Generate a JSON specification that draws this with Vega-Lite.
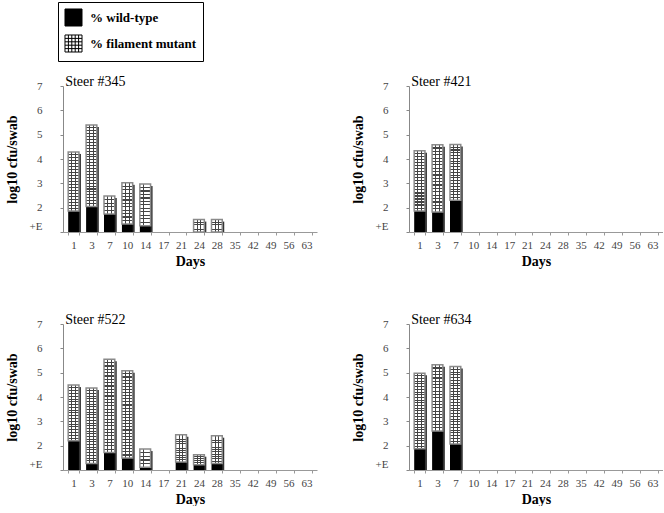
{
  "$schema": "https://vega.github.io/schema/vega-lite/v6.json",
  "background": "white",
  "padding": {"left": 5, "top": 1, "right": 0, "bottom": 0},
  "data": {"values": [
    {"steer": "Steer #345", "day": "1", "wt": 1.86, "total": 4.29},
    {"steer": "Steer #345", "day": "3", "wt": 2.05, "total": 5.40},
    {"steer": "Steer #345", "day": "7", "wt": 1.74, "total": 2.48},
    {"steer": "Steer #345", "day": "10", "wt": 1.33, "total": 3.02},
    {"steer": "Steer #345", "day": "14", "wt": 1.26, "total": 2.97},
    {"steer": "Steer #345", "day": "24", "wt": 1.0, "total": 1.51},
    {"steer": "Steer #345", "day": "28", "wt": 1.0, "total": 1.51},
    {"steer": "Steer #421", "day": "1", "wt": 1.86, "total": 4.34},
    {"steer": "Steer #421", "day": "3", "wt": 1.82, "total": 4.59},
    {"steer": "Steer #421", "day": "7", "wt": 2.30, "total": 4.60},
    {"steer": "Steer #522", "day": "1", "wt": 2.20, "total": 4.49},
    {"steer": "Steer #522", "day": "3", "wt": 1.27, "total": 4.37},
    {"steer": "Steer #522", "day": "7", "wt": 1.72, "total": 5.55},
    {"steer": "Steer #522", "day": "10", "wt": 1.49, "total": 5.08},
    {"steer": "Steer #522", "day": "14", "wt": 1.11, "total": 1.86},
    {"steer": "Steer #522", "day": "21", "wt": 1.33, "total": 2.45},
    {"steer": "Steer #522", "day": "24", "wt": 1.22, "total": 1.63},
    {"steer": "Steer #522", "day": "28", "wt": 1.27, "total": 2.41},
    {"steer": "Steer #634", "day": "1", "wt": 1.87, "total": 4.98},
    {"steer": "Steer #634", "day": "3", "wt": 2.60, "total": 5.33},
    {"steer": "Steer #634", "day": "7", "wt": 2.07, "total": 5.25}
  ]},
  "facet": {"field": "steer", "type": "nominal", "header": {"title": null, "labels": false, "labelExpr": "''", "labelFontSize": 1, "labelPadding": 0}},
  "columns": 2,
  "bounds": "flush",
  "spacing": {"row": 92, "column": 92},
  "resolve": {"axis": {"x": "independent", "y": "independent"}},
  "spec": {
    "width": 254,
    "height": 146,
    "encoding": {
      "x": {
        "field": "day", "type": "ordinal",
        "scale": {"domain": ["1","3","7","10","14","17","21","24","28","35","42","49","56","63"], "paddingInner": 0.4, "paddingOuter": 0.29},
        "axis": {"title": "Days", "labelAngle": 0, "labelOverlap": false, "tickBand": "extent", "tickSize": 3, "labelPadding": 4, "labelFontSize": 11, "labelColor": "#444", "domainColor": "#999", "tickColor": "#999", "titleFontSize": 14, "titleFontWeight": "bold", "titleColor": "black", "titlePadding": 4}
      }
    },
    "layer": [
      {
        "mark": {"type": "bar", "fill": "#333", "xOffset": 2, "yOffset": 2, "clip": true},
        "encoding": {
          "y": {"field": "total", "type": "quantitative", "scale": {"domain": [1, 7], "nice": false}, "title": "log10 cfu/swab",
            "axis": {"values": [1,2,3,4,5,6,7], "tickCount": 7, "labelOverlap": false, "labelExpr": "datum.value == 1 ? '+E' : format(datum.value, 'd')", "labelBaseline": {"condition": {"test": "datum.value == 1", "value": "line-bottom"}, "value": "middle"}, "tickSize": 3, "labelPadding": 18, "labelFontSize": 11, "labelColor": "#444", "domainColor": "#888", "tickColor": "#888", "titleFontSize": 14, "titleFontWeight": "bold", "titleColor": "black", "titlePadding": 10}},
          "y2": {"datum": 1}
        }
      },
      {
        "mark": {"type": "bar"},
        "encoding": {
          "y": {"field": "wt", "type": "quantitative", "scale": {"domain": [1, 7], "nice": false}, "title": "log10 cfu/swab"},
          "y2": {"datum": 1},
          "color": {"datum": "% wild-type", "type": "nominal",
            "scale": {"domain": ["% wild-type", "% filament mutant"], "range": ["black", "white"]},
            "legend": {"title": null, "orient": "none", "legendX": -5, "legendY": -84, "strokeColor": "black", "padding": 6, "symbolSize": 290, "symbolType": "square", "labelFontSize": 13, "labelFontWeight": "bold", "labelColor": "black", "labelOffset": 7, "rowPadding": 3, "symbolStrokeColor": "black", "symbolStrokeWidth": 1, "symbolOpacity": 1,
              "encode": {"symbols": {"update": {
                "shape": [{"test": "datum.value === '% filament mutant'", "value": "M-1,-1H1V1H-1Z M-0.6,-1V1 M-0.2,-1V1 M0.2,-1V1 M0.6,-1V1 M-1,-0.6H1 M-1,-0.2H1 M-1,0.2H1 M-1,0.6H1"}, {"value": "square"}],
                "stroke": {"value": "black"},
                "strokeWidth": {"value": 1}
              }}}
            }
          }
        }
      },
      {
        "mark": {"type": "bar"},
        "encoding": {
          "y": {"field": "total", "type": "quantitative", "scale": {"domain": [1, 7], "nice": false}, "title": "log10 cfu/swab"},
          "y2": {"field": "wt"},
          "color": {"datum": "% filament mutant", "type": "nominal", "scale": {"domain": ["% wild-type", "% filament mutant"], "range": ["black", "white"]}}
        }
      },
      {
        "transform": [{"filter": "datum.total - datum.wt < 0.9"}],
        "mark": {"type": "bar", "fill": {"gradient": "linear", "x1": 0, "y1": 0, "x2": 0, "y2": 1, "stops": [
          {"offset": 0.165, "color": "rgba(0,0,0,0)"}, {"offset": 0.165, "color": "#444"}, {"offset": 0.235, "color": "#444"}, {"offset": 0.235, "color": "rgba(0,0,0,0)"},
          {"offset": 0.365, "color": "rgba(0,0,0,0)"}, {"offset": 0.365, "color": "#444"}, {"offset": 0.435, "color": "#444"}, {"offset": 0.435, "color": "rgba(0,0,0,0)"},
          {"offset": 0.565, "color": "rgba(0,0,0,0)"}, {"offset": 0.565, "color": "#444"}, {"offset": 0.635, "color": "#444"}, {"offset": 0.635, "color": "rgba(0,0,0,0)"},
          {"offset": 0.765, "color": "rgba(0,0,0,0)"}, {"offset": 0.765, "color": "#444"}, {"offset": 0.835, "color": "#444"}, {"offset": 0.835, "color": "rgba(0,0,0,0)"}
        ]}},
        "encoding": {
          "y": {"field": "total", "type": "quantitative", "scale": {"domain": [1, 7], "nice": false}, "title": "log10 cfu/swab"},
          "y2": {"field": "wt"}
        }
      },
      {
        "transform": [{"filter": "datum.total - datum.wt >= 0.9 && datum.total - datum.wt < 2.0"}],
        "mark": {"type": "bar", "fill": {"gradient": "linear", "x1": 0, "y1": 0, "x2": 0, "y2": 1, "stops": [
          {"offset": 0.0683, "color": "rgba(0,0,0,0)"}, {"offset": 0.0683, "color": "#444"}, {"offset": 0.0983, "color": "#444"}, {"offset": 0.0983, "color": "rgba(0,0,0,0)"},
          {"offset": 0.1517, "color": "rgba(0,0,0,0)"}, {"offset": 0.1517, "color": "#444"}, {"offset": 0.1817, "color": "#444"}, {"offset": 0.1817, "color": "rgba(0,0,0,0)"},
          {"offset": 0.235, "color": "rgba(0,0,0,0)"}, {"offset": 0.235, "color": "#444"}, {"offset": 0.265, "color": "#444"}, {"offset": 0.265, "color": "rgba(0,0,0,0)"},
          {"offset": 0.3183, "color": "rgba(0,0,0,0)"}, {"offset": 0.3183, "color": "#444"}, {"offset": 0.3483, "color": "#444"}, {"offset": 0.3483, "color": "rgba(0,0,0,0)"},
          {"offset": 0.4017, "color": "rgba(0,0,0,0)"}, {"offset": 0.4017, "color": "#444"}, {"offset": 0.4317, "color": "#444"}, {"offset": 0.4317, "color": "rgba(0,0,0,0)"},
          {"offset": 0.485, "color": "rgba(0,0,0,0)"}, {"offset": 0.485, "color": "#444"}, {"offset": 0.515, "color": "#444"}, {"offset": 0.515, "color": "rgba(0,0,0,0)"},
          {"offset": 0.5683, "color": "rgba(0,0,0,0)"}, {"offset": 0.5683, "color": "#444"}, {"offset": 0.5983, "color": "#444"}, {"offset": 0.5983, "color": "rgba(0,0,0,0)"},
          {"offset": 0.6517, "color": "rgba(0,0,0,0)"}, {"offset": 0.6517, "color": "#444"}, {"offset": 0.6817, "color": "#444"}, {"offset": 0.6817, "color": "rgba(0,0,0,0)"},
          {"offset": 0.735, "color": "rgba(0,0,0,0)"}, {"offset": 0.735, "color": "#444"}, {"offset": 0.765, "color": "#444"}, {"offset": 0.765, "color": "rgba(0,0,0,0)"},
          {"offset": 0.8183, "color": "rgba(0,0,0,0)"}, {"offset": 0.8183, "color": "#444"}, {"offset": 0.8483, "color": "#444"}, {"offset": 0.8483, "color": "rgba(0,0,0,0)"},
          {"offset": 0.9017, "color": "rgba(0,0,0,0)"}, {"offset": 0.9017, "color": "#444"}, {"offset": 0.9317, "color": "#444"}, {"offset": 0.9317, "color": "rgba(0,0,0,0)"}
        ]}},
        "encoding": {
          "y": {"field": "total", "type": "quantitative", "scale": {"domain": [1, 7], "nice": false}, "title": "log10 cfu/swab"},
          "y2": {"field": "wt"}
        }
      },
      {
        "transform": [{"filter": "datum.total - datum.wt >= 2.0 && datum.total - datum.wt < 2.9"}],
        "mark": {"type": "bar", "fill": {"gradient": "linear", "x1": 0, "y1": 0, "x2": 0, "y2": 1, "stops": [
          {"offset": 0.041, "color": "rgba(0,0,0,0)"}, {"offset": 0.041, "color": "#444"}, {"offset": 0.059, "color": "#444"}, {"offset": 0.059, "color": "rgba(0,0,0,0)"},
          {"offset": 0.091, "color": "rgba(0,0,0,0)"}, {"offset": 0.091, "color": "#444"}, {"offset": 0.109, "color": "#444"}, {"offset": 0.109, "color": "rgba(0,0,0,0)"},
          {"offset": 0.141, "color": "rgba(0,0,0,0)"}, {"offset": 0.141, "color": "#444"}, {"offset": 0.159, "color": "#444"}, {"offset": 0.159, "color": "rgba(0,0,0,0)"},
          {"offset": 0.191, "color": "rgba(0,0,0,0)"}, {"offset": 0.191, "color": "#444"}, {"offset": 0.209, "color": "#444"}, {"offset": 0.209, "color": "rgba(0,0,0,0)"},
          {"offset": 0.241, "color": "rgba(0,0,0,0)"}, {"offset": 0.241, "color": "#444"}, {"offset": 0.259, "color": "#444"}, {"offset": 0.259, "color": "rgba(0,0,0,0)"},
          {"offset": 0.291, "color": "rgba(0,0,0,0)"}, {"offset": 0.291, "color": "#444"}, {"offset": 0.309, "color": "#444"}, {"offset": 0.309, "color": "rgba(0,0,0,0)"},
          {"offset": 0.341, "color": "rgba(0,0,0,0)"}, {"offset": 0.341, "color": "#444"}, {"offset": 0.359, "color": "#444"}, {"offset": 0.359, "color": "rgba(0,0,0,0)"},
          {"offset": 0.391, "color": "rgba(0,0,0,0)"}, {"offset": 0.391, "color": "#444"}, {"offset": 0.409, "color": "#444"}, {"offset": 0.409, "color": "rgba(0,0,0,0)"},
          {"offset": 0.441, "color": "rgba(0,0,0,0)"}, {"offset": 0.441, "color": "#444"}, {"offset": 0.459, "color": "#444"}, {"offset": 0.459, "color": "rgba(0,0,0,0)"},
          {"offset": 0.491, "color": "rgba(0,0,0,0)"}, {"offset": 0.491, "color": "#444"}, {"offset": 0.509, "color": "#444"}, {"offset": 0.509, "color": "rgba(0,0,0,0)"},
          {"offset": 0.541, "color": "rgba(0,0,0,0)"}, {"offset": 0.541, "color": "#444"}, {"offset": 0.559, "color": "#444"}, {"offset": 0.559, "color": "rgba(0,0,0,0)"},
          {"offset": 0.591, "color": "rgba(0,0,0,0)"}, {"offset": 0.591, "color": "#444"}, {"offset": 0.609, "color": "#444"}, {"offset": 0.609, "color": "rgba(0,0,0,0)"},
          {"offset": 0.641, "color": "rgba(0,0,0,0)"}, {"offset": 0.641, "color": "#444"}, {"offset": 0.659, "color": "#444"}, {"offset": 0.659, "color": "rgba(0,0,0,0)"},
          {"offset": 0.691, "color": "rgba(0,0,0,0)"}, {"offset": 0.691, "color": "#444"}, {"offset": 0.709, "color": "#444"}, {"offset": 0.709, "color": "rgba(0,0,0,0)"},
          {"offset": 0.741, "color": "rgba(0,0,0,0)"}, {"offset": 0.741, "color": "#444"}, {"offset": 0.759, "color": "#444"}, {"offset": 0.759, "color": "rgba(0,0,0,0)"},
          {"offset": 0.791, "color": "rgba(0,0,0,0)"}, {"offset": 0.791, "color": "#444"}, {"offset": 0.809, "color": "#444"}, {"offset": 0.809, "color": "rgba(0,0,0,0)"},
          {"offset": 0.841, "color": "rgba(0,0,0,0)"}, {"offset": 0.841, "color": "#444"}, {"offset": 0.859, "color": "#444"}, {"offset": 0.859, "color": "rgba(0,0,0,0)"},
          {"offset": 0.891, "color": "rgba(0,0,0,0)"}, {"offset": 0.891, "color": "#444"}, {"offset": 0.909, "color": "#444"}, {"offset": 0.909, "color": "rgba(0,0,0,0)"},
          {"offset": 0.941, "color": "rgba(0,0,0,0)"}, {"offset": 0.941, "color": "#444"}, {"offset": 0.959, "color": "#444"}, {"offset": 0.959, "color": "rgba(0,0,0,0)"}
        ]}},
        "encoding": {
          "y": {"field": "total", "type": "quantitative", "scale": {"domain": [1, 7], "nice": false}, "title": "log10 cfu/swab"},
          "y2": {"field": "wt"}
        }
      },
      {
        "transform": [{"filter": "datum.total - datum.wt >= 2.9"}],
        "mark": {"type": "bar", "fill": {"gradient": "linear", "x1": 0, "y1": 0, "x2": 0, "y2": 1, "stops": [
          {"offset": 0.0292, "color": "rgba(0,0,0,0)"}, {"offset": 0.0292, "color": "#444"}, {"offset": 0.0422, "color": "#444"}, {"offset": 0.0422, "color": "rgba(0,0,0,0)"},
          {"offset": 0.0649, "color": "rgba(0,0,0,0)"}, {"offset": 0.0649, "color": "#444"}, {"offset": 0.0779, "color": "#444"}, {"offset": 0.0779, "color": "rgba(0,0,0,0)"},
          {"offset": 0.1006, "color": "rgba(0,0,0,0)"}, {"offset": 0.1006, "color": "#444"}, {"offset": 0.1136, "color": "#444"}, {"offset": 0.1136, "color": "rgba(0,0,0,0)"},
          {"offset": 0.1364, "color": "rgba(0,0,0,0)"}, {"offset": 0.1364, "color": "#444"}, {"offset": 0.1494, "color": "#444"}, {"offset": 0.1494, "color": "rgba(0,0,0,0)"},
          {"offset": 0.1721, "color": "rgba(0,0,0,0)"}, {"offset": 0.1721, "color": "#444"}, {"offset": 0.1851, "color": "#444"}, {"offset": 0.1851, "color": "rgba(0,0,0,0)"},
          {"offset": 0.2078, "color": "rgba(0,0,0,0)"}, {"offset": 0.2078, "color": "#444"}, {"offset": 0.2208, "color": "#444"}, {"offset": 0.2208, "color": "rgba(0,0,0,0)"},
          {"offset": 0.2435, "color": "rgba(0,0,0,0)"}, {"offset": 0.2435, "color": "#444"}, {"offset": 0.2565, "color": "#444"}, {"offset": 0.2565, "color": "rgba(0,0,0,0)"},
          {"offset": 0.2792, "color": "rgba(0,0,0,0)"}, {"offset": 0.2792, "color": "#444"}, {"offset": 0.2922, "color": "#444"}, {"offset": 0.2922, "color": "rgba(0,0,0,0)"},
          {"offset": 0.3149, "color": "rgba(0,0,0,0)"}, {"offset": 0.3149, "color": "#444"}, {"offset": 0.3279, "color": "#444"}, {"offset": 0.3279, "color": "rgba(0,0,0,0)"},
          {"offset": 0.3506, "color": "rgba(0,0,0,0)"}, {"offset": 0.3506, "color": "#444"}, {"offset": 0.3636, "color": "#444"}, {"offset": 0.3636, "color": "rgba(0,0,0,0)"},
          {"offset": 0.3864, "color": "rgba(0,0,0,0)"}, {"offset": 0.3864, "color": "#444"}, {"offset": 0.3994, "color": "#444"}, {"offset": 0.3994, "color": "rgba(0,0,0,0)"},
          {"offset": 0.4221, "color": "rgba(0,0,0,0)"}, {"offset": 0.4221, "color": "#444"}, {"offset": 0.4351, "color": "#444"}, {"offset": 0.4351, "color": "rgba(0,0,0,0)"},
          {"offset": 0.4578, "color": "rgba(0,0,0,0)"}, {"offset": 0.4578, "color": "#444"}, {"offset": 0.4708, "color": "#444"}, {"offset": 0.4708, "color": "rgba(0,0,0,0)"},
          {"offset": 0.4935, "color": "rgba(0,0,0,0)"}, {"offset": 0.4935, "color": "#444"}, {"offset": 0.5065, "color": "#444"}, {"offset": 0.5065, "color": "rgba(0,0,0,0)"},
          {"offset": 0.5292, "color": "rgba(0,0,0,0)"}, {"offset": 0.5292, "color": "#444"}, {"offset": 0.5422, "color": "#444"}, {"offset": 0.5422, "color": "rgba(0,0,0,0)"},
          {"offset": 0.5649, "color": "rgba(0,0,0,0)"}, {"offset": 0.5649, "color": "#444"}, {"offset": 0.5779, "color": "#444"}, {"offset": 0.5779, "color": "rgba(0,0,0,0)"},
          {"offset": 0.6006, "color": "rgba(0,0,0,0)"}, {"offset": 0.6006, "color": "#444"}, {"offset": 0.6136, "color": "#444"}, {"offset": 0.6136, "color": "rgba(0,0,0,0)"},
          {"offset": 0.6364, "color": "rgba(0,0,0,0)"}, {"offset": 0.6364, "color": "#444"}, {"offset": 0.6494, "color": "#444"}, {"offset": 0.6494, "color": "rgba(0,0,0,0)"},
          {"offset": 0.6721, "color": "rgba(0,0,0,0)"}, {"offset": 0.6721, "color": "#444"}, {"offset": 0.6851, "color": "#444"}, {"offset": 0.6851, "color": "rgba(0,0,0,0)"},
          {"offset": 0.7078, "color": "rgba(0,0,0,0)"}, {"offset": 0.7078, "color": "#444"}, {"offset": 0.7208, "color": "#444"}, {"offset": 0.7208, "color": "rgba(0,0,0,0)"},
          {"offset": 0.7435, "color": "rgba(0,0,0,0)"}, {"offset": 0.7435, "color": "#444"}, {"offset": 0.7565, "color": "#444"}, {"offset": 0.7565, "color": "rgba(0,0,0,0)"},
          {"offset": 0.7792, "color": "rgba(0,0,0,0)"}, {"offset": 0.7792, "color": "#444"}, {"offset": 0.7922, "color": "#444"}, {"offset": 0.7922, "color": "rgba(0,0,0,0)"},
          {"offset": 0.8149, "color": "rgba(0,0,0,0)"}, {"offset": 0.8149, "color": "#444"}, {"offset": 0.8279, "color": "#444"}, {"offset": 0.8279, "color": "rgba(0,0,0,0)"},
          {"offset": 0.8506, "color": "rgba(0,0,0,0)"}, {"offset": 0.8506, "color": "#444"}, {"offset": 0.8636, "color": "#444"}, {"offset": 0.8636, "color": "rgba(0,0,0,0)"},
          {"offset": 0.8864, "color": "rgba(0,0,0,0)"}, {"offset": 0.8864, "color": "#444"}, {"offset": 0.8994, "color": "#444"}, {"offset": 0.8994, "color": "rgba(0,0,0,0)"},
          {"offset": 0.9221, "color": "rgba(0,0,0,0)"}, {"offset": 0.9221, "color": "#444"}, {"offset": 0.9351, "color": "#444"}, {"offset": 0.9351, "color": "rgba(0,0,0,0)"},
          {"offset": 0.9578, "color": "rgba(0,0,0,0)"}, {"offset": 0.9578, "color": "#444"}, {"offset": 0.9708, "color": "#444"}, {"offset": 0.9708, "color": "rgba(0,0,0,0)"}
        ]}},
        "encoding": {
          "y": {"field": "total", "type": "quantitative", "scale": {"domain": [1, 7], "nice": false}, "title": "log10 cfu/swab"},
          "y2": {"field": "wt"}
        }
      },
      {
        "mark": {"type": "bar", "fill": {"gradient": "linear", "x1": 0, "y1": 0, "x2": 1, "y2": 0, "stops": [
          {"offset": 0.29, "color": "rgba(0,0,0,0)"}, {"offset": 0.29, "color": "#444"}, {"offset": 0.38, "color": "#444"}, {"offset": 0.38, "color": "rgba(0,0,0,0)"},
          {"offset": 0.62, "color": "rgba(0,0,0,0)"}, {"offset": 0.62, "color": "#444"}, {"offset": 0.71, "color": "#444"}, {"offset": 0.71, "color": "rgba(0,0,0,0)"}
        ]}},
        "encoding": {
          "y": {"field": "total", "type": "quantitative", "scale": {"domain": [1, 7], "nice": false}, "title": "log10 cfu/swab"},
          "y2": {"field": "wt"}
        }
      },
      {
        "mark": {"type": "bar", "filled": false, "stroke": "#8a8a8a", "strokeWidth": 1.5},
        "encoding": {
          "y": {"field": "total", "type": "quantitative", "scale": {"domain": [1, 7], "nice": false}, "title": "log10 cfu/swab"},
          "y2": {"field": "wt"}
        }
      },
      {
        "transform": [{"filter": "datum.day == '1'"}],
        "mark": {"type": "text", "align": "left", "baseline": "alphabetic", "dx": -3, "dy": 0, "fontSize": 14, "font": "Liberation Serif", "color": "black"},
        "encoding": {
          "x": {"field": "day", "type": "ordinal", "bandPosition": 0},
          "y": {"datum": 7, "type": "quantitative", "scale": {"domain": [1, 7], "nice": false}, "title": "log10 cfu/swab"},
          "text": {"field": "steer"}
        }
      }
    ]
  },
  "config": {
    "font": "Liberation Serif",
    "view": {"stroke": null},
    "axis": {"grid": false, "labelFont": "Liberation Serif", "titleFont": "Liberation Serif"},
    "axisY": {"labelOverlap": false},
    "legend": {"labelFont": "Liberation Serif"},
    "header": {"labels": false, "title": null, "labelExpr": "''", "labelFontSize": 1},
    "headerFacet": {"labels": false, "title": null, "labelExpr": "''", "labelFontSize": 1}
  }
}
